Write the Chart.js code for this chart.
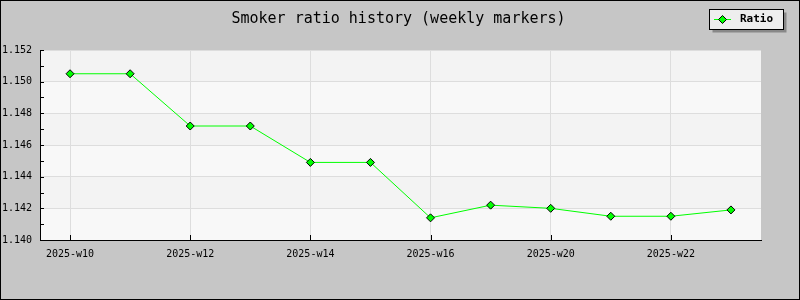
<!DOCTYPE html>
<html>
<head>
<meta charset="utf-8">
<script src="https://cdn.jsdelivr.net/npm/chart.js@4/dist/chart.umd.min.js"></script>
<style>
  html, body { margin: 0; padding: 0; background: #c6c6c6; }
  #wrap { width: 800px; height: 300px; }
</style>
</head>
<body>
<div id="wrap"><canvas id="c" width="800" height="300"></canvas></div>
<script>
// ---- data ----
const categories = ['2025-w10','2025-w11','2025-w12','2025-w13','2025-w14','2025-w15','2025-w16','2025-w18','2025-w20','2025-w21','2025-w22','2025-w23'];
const ratioValues = [1.1505, 1.1505, 1.1472, 1.1472, 1.1449, 1.1449, 1.1414, 1.1422, 1.1420, 1.1415, 1.1415, 1.1419];
const seriesName = 'Ratio';
const titleText = 'Smoker ratio history (weekly markers)';
const yMin = 1.140, yMax = 1.152, yStep = 0.001;

const FONT = '"DejaVu Sans Mono", "Liberation Mono", monospace';
const isMajorY = v => Math.round(v * 1000) % 2 === 0;

const decor = {
  id: 'decor',
  beforeDraw(chart) {
    const ctx = chart.ctx, a = chart.chartArea, y = chart.scales.y;
    ctx.save();
    ctx.fillStyle = '#c6c6c6';
    ctx.fillRect(0, 0, chart.width, chart.height);
    // alternating bands
    let k = 0;
    for (let v = yMax; v > yMin + 1e-9; v -= 0.002, k++) {
      const top = y.getPixelForValue(v), bot = y.getPixelForValue(v - 0.002);
      ctx.fillStyle = (k % 2 === 0) ? '#f3f3f3' : '#f8f8f8';
      ctx.fillRect(a.left, top, a.right - a.left, bot - top);
    }
    // outer border
    ctx.strokeStyle = '#000';
    ctx.lineWidth = 1;
    ctx.strokeRect(0.5, 0.5, chart.width - 1, chart.height - 1);
    // title
    ctx.fillStyle = '#000';
    ctx.font = '15px ' + FONT;
    ctx.textAlign = 'center';
    ctx.textBaseline = 'middle';
    ctx.fillText(titleText, 398.5, 19);
    ctx.restore();
  },
  beforeDatasetsDraw(chart) {
    const ctx = chart.ctx, a = chart.chartArea, y = chart.scales.y, x = chart.scales.x;
    ctx.save();
    ctx.strokeStyle = '#000';
    ctx.lineWidth = 1;
    ctx.beginPath();
    y.ticks.forEach(t => {
      const py = Math.round(y.getPixelForValue(t.value)) + 0.5;
      ctx.moveTo(a.left, py); ctx.lineTo(a.left + 4, py);
    });
    categories.forEach((c, i) => {
      if (i % 2 !== 0) return;
      const px = Math.round(x.getPixelForValue(i)) + 0.5;
      ctx.moveTo(px, a.bottom); ctx.lineTo(px, a.bottom - 5);
    });
    ctx.stroke();
    ctx.restore();
  },
  afterDraw(chart) {
    const ctx = chart.ctx;
    ctx.save();
    // legend box with shadow
    const bx = 709.5, by = 9.5, bw = 74, bh = 20;
    ctx.fillStyle = '#888888';
    ctx.fillRect(bx + 3, by + 3, bw, bh);
    ctx.fillStyle = '#eeeeee';
    ctx.fillRect(bx, by, bw, bh);
    ctx.strokeStyle = '#000';
    ctx.lineWidth = 1;
    ctx.strokeRect(bx, by, bw, bh);
    // marker
    ctx.strokeStyle = '#00ff00';
    ctx.beginPath();
    ctx.moveTo(714, 19.5); ctx.lineTo(731, 19.5);
    ctx.stroke();
    ctx.beginPath();
    const cx = 722.5, cy = 19.5, r = 4;
    ctx.moveTo(cx, cy - r); ctx.lineTo(cx + r, cy); ctx.lineTo(cx, cy + r); ctx.lineTo(cx - r, cy); ctx.closePath();
    ctx.fillStyle = '#00ff00'; ctx.fill();
    ctx.strokeStyle = '#000'; ctx.stroke();
    // text
    ctx.fillStyle = '#000';
    ctx.font = 'bold 11px ' + FONT;
    ctx.textBaseline = 'middle';
    ctx.textAlign = 'left';
    ctx.fillText(seriesName, 740, 19.5);
    ctx.restore();
  }
};

new Chart(document.getElementById('c'), {
  type: 'line',
  data: {
    labels: categories,
    datasets: [{
      label: seriesName,
      data: ratioValues,
      borderColor: '#00ff00',
      borderWidth: 1,
      tension: 0,
      pointStyle: 'rectRot',
      pointRadius: 4,
      pointHoverRadius: 4,
      pointBackgroundColor: '#00ff00',
      pointBorderColor: '#000000',
      pointBorderWidth: 1,
      fill: false
    }]
  },
  options: {
    responsive: false,
    animation: false,
    devicePixelRatio: 1,
    layout: { padding: { left: 2, right: 39, top: 50, bottom: 0 } },
    plugins: {
      legend: { display: false },
      tooltip: { enabled: false },
      title: { display: false }
    },
    scales: {
      x: {
        type: 'category',
        offset: true,
        afterFit(s) { s.height = 60; },
        border: { display: true, color: '#000', width: 1 },
        grid: {
          drawTicks: false,
          color: c => (c.index % 2 === 0 ? '#dddddd' : 'rgba(0,0,0,0)'),
          lineWidth: 1
        },
        ticks: {
          autoSkip: false,
          maxRotation: 0,
          padding: 8,
          color: '#000',
          font: { family: FONT, size: 10 },
          callback: function(v, i) { return i % 2 === 0 ? this.getLabelForValue(v) : ''; }
        }
      },
      y: {
        min: yMin,
        max: yMax,
        afterFit(s) { s.width = 38; },
        border: { display: true, color: '#000', width: 1 },
        grid: {
          drawTicks: false,
          color: c => (c.tick && isMajorY(c.tick.value) ? '#dddddd' : 'rgba(0,0,0,0)'),
          lineWidth: 1
        },
        ticks: {
          stepSize: yStep,
          crossAlign: 'far',
          padding: 0,
          color: '#000',
          font: { family: FONT, size: 10 },
          callback: v => (isMajorY(v) ? v.toFixed(3) : '')
        }
      }
    }
  },
  plugins: [decor]
});
</script>
</body>
</html>
